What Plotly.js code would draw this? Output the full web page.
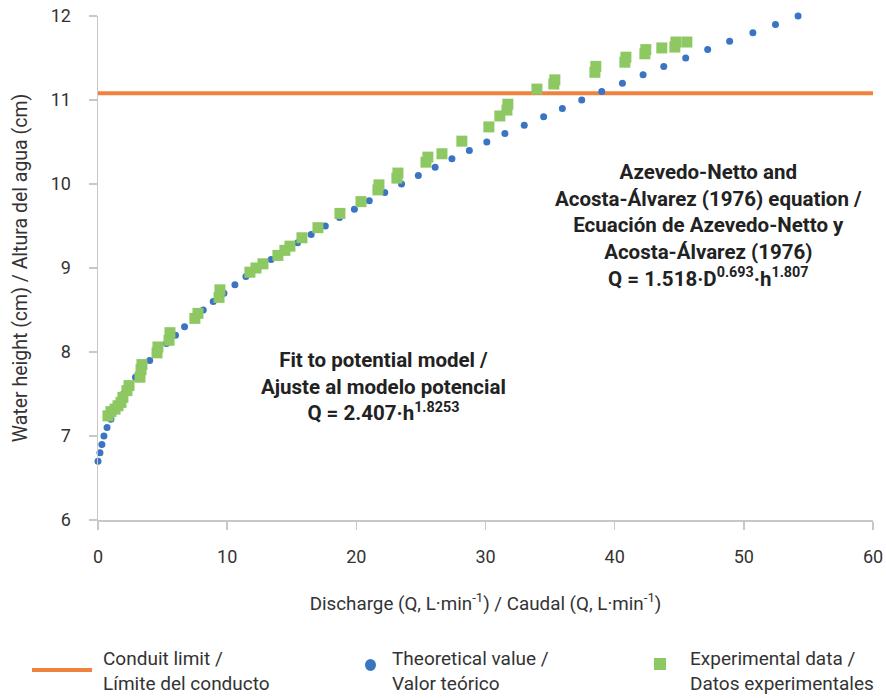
<!DOCTYPE html>
<html>
<head>
<meta charset="utf-8">
<script src="https://cdn.plot.ly/plotly-3.0.1.min.js"></script>
<style>
html,body{margin:0;padding:0;background:#fff;}
#chart{width:886px;height:698px;}
</style>
</head>
<body>
<div id="chart"></div>
<script>
// Conduit limit (water height, cm)
const limitQ = [0, 60];
const limitH = [11.08, 11.08];

// Theoretical values (Azevedo-Netto & Acosta-Álvarez)
const theoH = [6.7,6.8,6.9,7.0,7.1,7.2,7.3,7.4,7.5,7.6,7.7,7.8,7.9,8.0,8.1,8.2,8.3,8.4,8.5,8.6,8.7,8.8,8.9,9.0,9.1,9.2,9.3,9.4,9.5,9.6,9.7,9.8,9.9,10.0,10.1,10.2,10.3,10.4,10.5,10.6,10.7,10.8,10.9,11.0,11.1,11.2,11.3,11.4,11.5,11.6,11.7,11.8,11.9,12.0];
const theoQ = [0.0,0.15,0.3,0.46,0.7,1.0,1.3,1.6,1.96,2.4,2.9,3.45,4.0,4.6,5.3,6.0,6.7,7.4,8.15,8.92,9.75,10.6,11.45,12.4,13.4,14.4,15.45,16.5,17.6,18.7,19.85,21.0,22.2,23.5,24.8,26.1,27.4,28.75,30.1,31.5,33.0,34.5,35.95,37.45,39.0,40.6,42.2,43.8,45.5,47.2,48.9,50.7,52.45,54.2];

// Experimental data
const expQ = [0.77,1.0,1.32,1.55,1.78,1.93,2.24,2.4,3.25,3.33,3.4,4.57,4.64,5.5,5.57,7.5,7.74,9.37,9.44,11.76,12.23,12.77,13.93,14.47,14.86,15.79,17.03,18.73,20.36,21.67,21.75,23.14,23.22,25.39,25.54,26.63,28.17,30.26,31.11,31.66,31.73,33.98,35.29,35.37,38.47,38.54,40.79,40.87,42.34,42.41,43.65,44.66,44.74,45.59];
const expH = [7.24,7.29,7.32,7.36,7.40,7.46,7.54,7.60,7.70,7.79,7.85,7.99,8.06,8.14,8.23,8.40,8.46,8.65,8.74,8.95,9.0,9.05,9.15,9.21,9.26,9.36,9.48,9.65,9.79,9.93,9.99,10.07,10.13,10.26,10.32,10.36,10.51,10.68,10.81,10.88,10.95,11.13,11.19,11.24,11.33,11.40,11.45,11.51,11.55,11.60,11.62,11.63,11.69,11.69];

const xTicks = [0,10,20,30,40,50,60];
const yTicks = [6,7,8,9,10,11,12];

const FONT = 'Roboto, "Liberation Sans", sans-serif';
const ORANGE = '#F08240';
const BLUE = '#3B74C2';
const GREEN = '#8DC863';

const traces = [
  {x: limitQ, y: limitH, type: 'scatter', mode: 'lines', name: 'Conduit limit',
   line: {color: ORANGE, width: 4}, cliponaxis: false, hoverinfo: 'skip'},
  {x: theoQ, y: theoH, type: 'scatter', mode: 'markers', name: 'Theoretical value',
   marker: {color: BLUE, size: 7, symbol: 'circle'}, cliponaxis: false},
  {x: expQ, y: expH, type: 'scatter', mode: 'markers', name: 'Experimental data',
   marker: {color: GREEN, size: 11, symbol: 'square'}, cliponaxis: false}
];

const annFont = {family: FONT, size: 20.5, color: '#222'};
const legFont = {family: FONT, size: 19, color: '#333'};

const layout = {
  width: 886, height: 698,
  margin: {l: 98, r: 13, t: 16, b: 178},
  paper_bgcolor: '#fff', plot_bgcolor: '#fff',
  showlegend: false,
  font: {family: FONT, size: 17, color: '#333'},
  xaxis: {
    range: [0, 60], tickvals: xTicks, ticktext: xTicks.map(String),
    showgrid: false, zeroline: false, showline: true, linecolor: '#c8c8c8', linewidth: 1.5,
    ticks: 'outside', ticklen: 8, tickcolor: '#c8c8c8', tickwidth: 1.5,
    ticklabelstandoff: 12,
    tickfont: {family: FONT, size: 18, color: '#333'},
    title: {text: 'Discharge (Q, L·min<sup>-1</sup>) / Caudal (Q, L·min<sup>-1</sup>)', standoff: 30,
      font: {family: FONT, size: 18.8, color: '#333'}}
  },
  yaxis: {
    range: [6, 12], tickvals: yTicks, ticktext: yTicks.map(String),
    showgrid: false, zeroline: false, showline: true, linecolor: '#c8c8c8', linewidth: 1.5,
    ticks: 'outside', ticklen: 8, tickcolor: '#c8c8c8', tickwidth: 1.5,
    ticklabelstandoff: 14,
    tickfont: {family: FONT, size: 18, color: '#333'},
    title: {text: 'Water height (cm) / Altura del agua (cm)', standoff: 18,
      font: {family: FONT, size: 19.5, color: '#333'}}
  },
  annotations: [
    {xref: 'paper', yref: 'paper', x: (383-98)/775, y: (520-386)/504, xanchor: 'center', yanchor: 'middle',
     showarrow: false, align: 'center', font: annFont,
     text: '<b>Fit to potential model /<br>Ajuste al modelo potencial<br>Q = 2.407·h<sup>1.8253</sup></b>'},
    {xref: 'paper', yref: 'paper', x: (708-98)/775, y: (520-226)/504, xanchor: 'center', yanchor: 'middle',
     showarrow: false, align: 'center', font: annFont,
     text: '<b>Azevedo-Netto and<br>Acosta-Álvarez (1976) equation /<br>Ecuación de Azevedo-Netto y<br>Acosta-Álvarez (1976)<br>Q = 1.518·D<sup>0.693</sup>·h<sup>1.807</sup></b>'},
    {xref: 'paper', yref: 'paper', x: (101-98)/775, y: (520-671)/504, xanchor: 'left', yanchor: 'middle',
     showarrow: false, align: 'left', font: legFont, text: 'Conduit limit /<br>Límite del conducto'},
    {xref: 'paper', yref: 'paper', x: (390-98)/775, y: (520-671)/504, xanchor: 'left', yanchor: 'middle',
     showarrow: false, align: 'left', font: legFont, text: 'Theoretical value /<br>Valor teórico'},
    {xref: 'paper', yref: 'paper', x: (688-98)/775, y: (520-671)/504, xanchor: 'left', yanchor: 'middle',
     showarrow: false, align: 'left', font: legFont, text: 'Experimental data /<br>Datos experimentales'}
  ],
  shapes: [
    {type: 'line', xref: 'paper', yref: 'paper', x0: (32-98)/775, x1: (92-98)/775,
     y0: (520-670)/504, y1: (520-670)/504, line: {color: ORANGE, width: 4}},
    {type: 'circle', xref: 'paper', yref: 'paper', x0: (365-98)/775, x1: (376-98)/775,
     y0: (520-659)/504, y1: (520-671)/504, fillcolor: BLUE, line: {width: 0}},
    {type: 'rect', xref: 'paper', yref: 'paper', x0: (654-98)/775, x1: (666-98)/775,
     y0: (520-658)/504, y1: (520-670)/504, fillcolor: GREEN, line: {width: 0}}
  ]
};

Plotly.newPlot('chart', traces, layout, {displayModeBar: false, staticPlot: true});
</script>
</body>
</html>
